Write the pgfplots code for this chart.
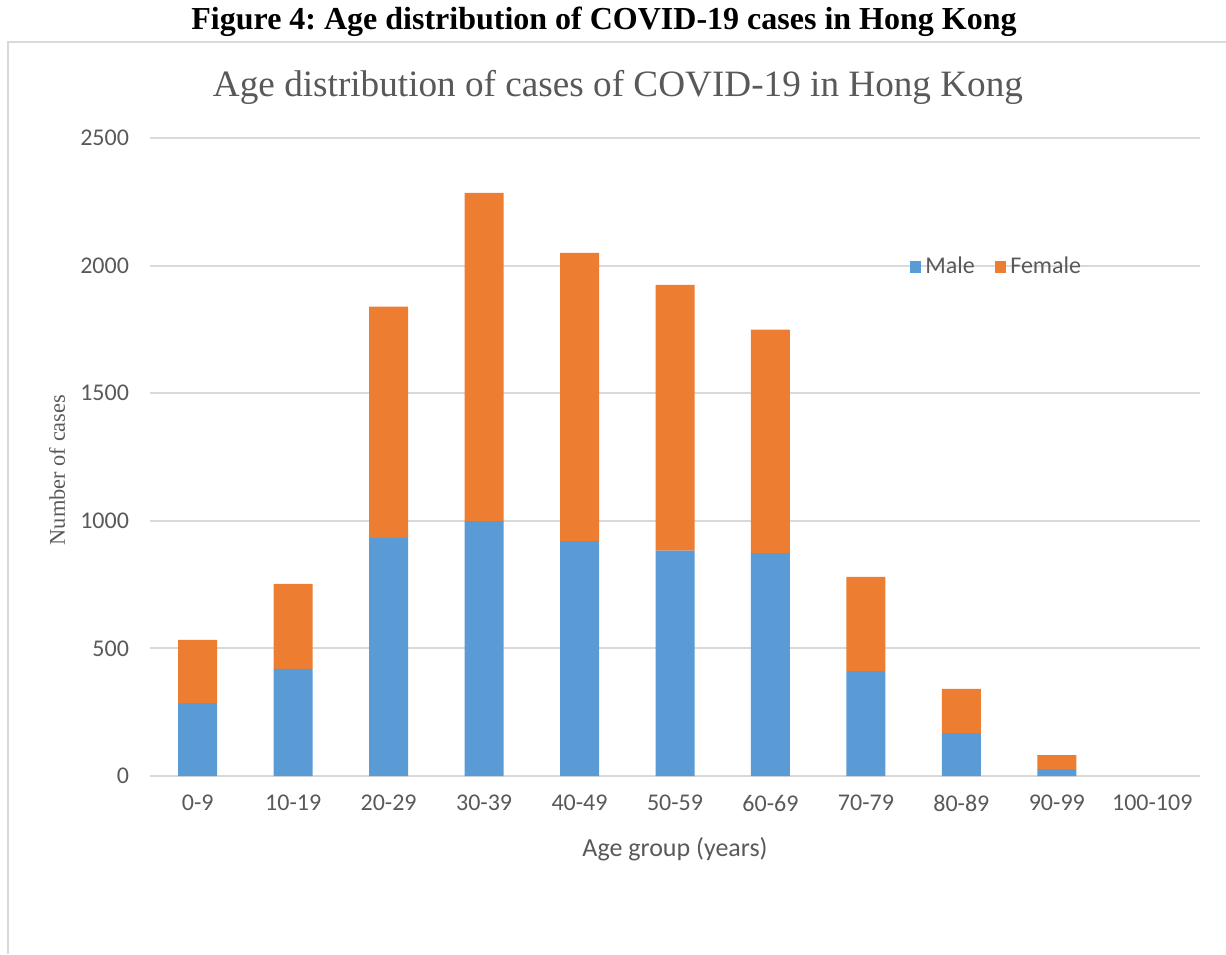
\documentclass[border=0pt]{standalone}
\usepackage{pgfplots}
\pgfplotsset{compat=1.18}
\usepackage{fontspec}
\setmainfont{Liberation Serif}
\newfontfamily\calibri{Carlito}
\definecolor{male}{HTML}{5B9BD5}
\definecolor{female}{HTML}{ED7D31}
\definecolor{gridc}{HTML}{D9D9D9}
\definecolor{txt}{HTML}{595959}
\frenchspacing
\begin{document}
\begin{tikzpicture}
\path[use as bounding box] (0,0) rectangle (613pt,477pt);
\draw[gridc,line width=1pt] (4pt,0pt) -- (4pt,456pt) -- (613pt,456pt);
\node[font=\fontsize{16}{19}\selectfont\bfseries] at (302pt,466pt) {Figure 4: Age distribution of COVID-19 cases in Hong Kong};
\node[font=\fontsize{18.6}{22}\selectfont, text=txt] at (309pt,433.5pt) {Age distribution of cases of COVID-19 in Hong Kong};
\node[font=\fontsize{11.2}{13}\selectfont, text=txt, rotate=90] at (28.5pt,242pt) {Number of cases};
\node[font=\calibri\fontsize{13}{15}\selectfont, text=txt] at (337.5pt,52.5pt) {Age group (years)};
\begin{axis}[
  at={(75pt,89pt)}, anchor=south west,
  scale only axis, width=525pt, height=319pt,
  ybar stacked, bar width=19.5pt,
  xmin=-0.5, xmax=10.5, ymin=0, ymax=2500,
  xtick={0,...,10},
  xticklabels={0-9,10-19,20-29,30-39,40-49,50-59,60-69,70-79,80-89,90-99,100-109},
  ytick={0,500,...,2500},
  major tick length=0pt,
  axis line style={draw=none},
  ymajorgrids, grid style={gridc,line width=1pt},
  /pgf/number format/1000 sep={},
  /pgf/number format/assume math mode=true,
  ticklabel style={font=\calibri\fontsize{12}{14}\selectfont, text=txt},
  yticklabel style={xshift=-7pt},
  xticklabel style={yshift=-6pt},
  legend style={at={(0.807,0.798)}, anchor=center, draw=none, fill=none,
    font=\calibri\fontsize{12}{14}\selectfont, text=txt,
    /tikz/every even column/.append style={column sep=8pt}},
  legend columns=2,
  legend image code/.code={\fill[#1] (-1pt,-2.9pt) rectangle (4.8pt,2.9pt);},
]
\addplot[fill=male, draw=none] coordinates {(0,286) (1,420) (2,932) (3,999) (4,920) (5,883) (6,873) (7,411) (8,168) (9,27) (10,0)};
\addplot[fill=female, draw=none] coordinates {(0,247) (1,333) (2,907) (3,1286) (4,1130) (5,1041) (6,876) (7,369) (8,173) (9,55) (10,0)};
\legend{Male,Female}
\end{axis}
\end{tikzpicture}
\end{document}
